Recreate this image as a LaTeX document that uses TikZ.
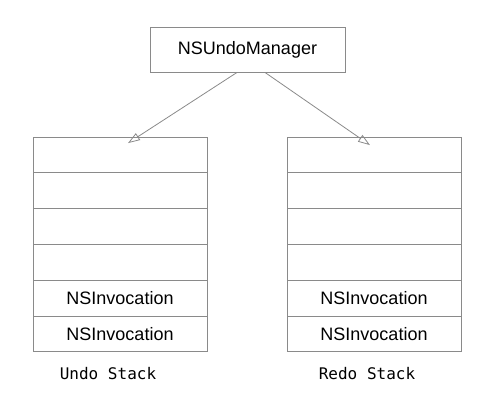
\documentclass[tikz,border=0pt]{standalone}
\usepackage{fontspec}
\setmainfont{Liberation Sans}
\setmonofont{DejaVu Sans Mono}
\usepackage{tikz}
\usetikzlibrary{arrows.meta, positioning}
\definecolor{undo_line}{RGB}{138, 138, 138}

\begin{document}
\begin{tikzpicture}[x=1pt, y=-1pt,
          font=\fontsize{18}{22}\selectfont,
          blk/.style={draw=undo_line, line width=0.9pt, inner sep=0pt,
                      minimum width=195pt, minimum height=45pt},
          cell/.style={draw=undo_line, line width=0.9pt, inner sep=0pt, outer sep=0pt,
                       minimum width=174pt, minimum height=35.8pt},
          lbl/.style={font=\ttfamily\fontsize{16}{19}\selectfont},
          arr/.style={-{Triangle[open, length=12pt, width=8pt]}, line width=0.8pt, undo_line}]
  \useasboundingbox (0,0) rectangle (500,414);
  \node[blk] (mgr) at (247.5, 49.5) {NSUndoManager};
  % undo stack
  \node[cell] (u1) at (120, 155) {};
  \node[cell, below=0pt of u1] (u2) {};
  \node[cell, below=0pt of u2] (u3) {};
  \node[cell, below=0pt of u3] (u4) {};
  \node[cell, below=0pt of u4] (u5) {NSInvocation};
  \node[cell, below=0pt of u5] (u6) {NSInvocation};
  \node[lbl] (undo) at (108, 374) {Undo Stack};
  % redo stack
  \node[cell] (r1) at (374, 155) {};
  \node[cell, below=0pt of r1] (r2) {};
  \node[cell, below=0pt of r2] (r3) {};
  \node[cell, below=0pt of r3] (r4) {};
  \node[cell, below=0pt of r4] (r5) {NSInvocation};
  \node[cell, below=0pt of r5] (r6) {NSInvocation};
  \node[lbl] (redo) at (367, 374) {Redo Stack};
  \draw[arr] ([xshift=-10.5pt]mgr.south) -- ([xshift=8pt, yshift=-6pt]u1.north);
  \draw[arr] ([xshift=17.5pt]mgr.south) -- ([xshift=-4pt, yshift=-8pt]r1.north);
\end{tikzpicture}
\end{document}
